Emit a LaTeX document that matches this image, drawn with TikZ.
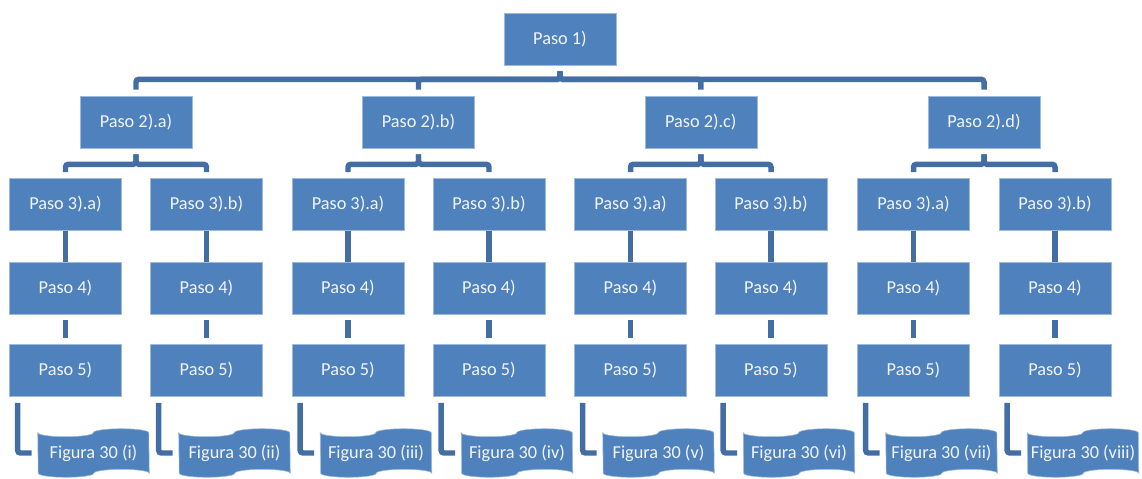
\documentclass[tikz,border=0pt]{standalone}
\usepackage{fontspec}
\setmainfont{Carlito}
\usetikzlibrary{backgrounds}

\definecolor{boxblue}{RGB}{79,129,189}
\definecolor{linkblue}{RGB}{66,110,164}
\definecolor{labelwhite}{RGB}{242,245,250}

\tikzset{
  paso/.style={rectangle,fill=boxblue,draw=boxblue!55!white,line width=0.4pt,text=labelwhite,
    minimum width=2.8cm,minimum height=1.3cm,inner sep=0pt,font=\fontsize{13}{15}\selectfont},
  figura/.style={rectangle,minimum width=2.775cm,minimum height=1cm,inner sep=0pt,text=labelwhite,
    font=\fontsize{13}{15}\selectfont},
  link/.style={draw=linkblue,line width=3.9pt,rounded corners=2pt,shorten <=0.15cm,shorten >=0.15cm}
}

% punched tape shape round a figura node
\newcommand{\tape}[1]{%
  \fill[boxblue,draw=boxblue!55!white,line width=0.4pt] (#1.north west)
    arc[start angle=180,end angle=360,x radius=0.694cm,y radius=0.1cm]
    arc[start angle=180,end angle=0,x radius=0.694cm,y radius=0.1cm] -- (#1.south east)
    arc[start angle=0,end angle=180,x radius=0.694cm,y radius=0.1cm]
    arc[start angle=0,end angle=-180,x radius=0.694cm,y radius=0.1cm] -- cycle;}

\begin{document}
\begin{tikzpicture}
                \useasboundingbox (0,0) rectangle (28.55,-11.95);

                \node[paso] (p1) at (14, -0.975) {Paso 1)};

                \node[paso] (p2a) at (3.4, -3.05) {Paso 2).a)};
                \node[paso] (p2b) at (10.4625, -3.05) {Paso 2).b)};
                \node[paso] (p2c) at (17.52, -3.05) {Paso 2).c)};
                \node[paso] (p2d) at (24.6, -3.05) {Paso 2).d)};

                \node[paso] (p31) at (1.6375, -5.1125) {Paso 3).a)};
                \node[paso] (p32) at (5.1625, -5.1125) {Paso 3).b)};
                \node[paso] (p33) at (8.7, -5.1125) {Paso 3).a)};
                \node[paso] (p34) at (12.225, -5.1125) {Paso 3).b)};
                \node[paso] (p35) at (15.7625, -5.1125) {Paso 3).a)};
                \node[paso] (p36) at (19.275, -5.1125) {Paso 3).b)};
                \node[paso] (p37) at (22.8375, -5.1125) {Paso 3).a)};
                \node[paso] (p38) at (26.375, -5.1125) {Paso 3).b)};

                \node[paso] (p41) at (1.6375, -7.2) {Paso 4)};
                \node[paso] (p42) at (5.1625, -7.2) {Paso 4)};
                \node[paso] (p43) at (8.7, -7.2) {Paso 4)};
                \node[paso] (p44) at (12.225, -7.2) {Paso 4)};
                \node[paso] (p45) at (15.7625, -7.2) {Paso 4)};
                \node[paso] (p46) at (19.275, -7.2) {Paso 4)};
                \node[paso] (p47) at (22.8375, -7.2) {Paso 4)};
                \node[paso] (p48) at (26.375, -7.2) {Paso 4)};

                \node[paso] (p51) at (1.6375, -9.2625) {Paso 5)};
                \node[paso] (p52) at (5.1625, -9.2625) {Paso 5)};
                \node[paso] (p53) at (8.7, -9.2625) {Paso 5)};
                \node[paso] (p54) at (12.225, -9.2625) {Paso 5)};
                \node[paso] (p55) at (15.7625, -9.2625) {Paso 5)};
                \node[paso] (p56) at (19.275, -9.2625) {Paso 5)};
                \node[paso] (p57) at (22.8375, -9.2625) {Paso 5)};
                \node[paso] (p58) at (26.375, -9.2625) {Paso 5)};

                \node[figura] (f1) at (2.3375, -11.325) {Figura 30 (i)};
                \node[figura] (f2) at (5.8625, -11.325) {Figura 30 (ii)};
                \node[figura] (f3) at (9.4, -11.325) {Figura 30 (iii)};
                \node[figura] (f4) at (12.925, -11.325) {Figura 30 (iv)};
                \node[figura] (f5) at (16.4625, -11.325) {Figura 30 (v)};
                \node[figura] (f6) at (19.975, -11.325) {Figura 30 (vi)};
                \node[figura] (f7) at (23.5375, -11.325) {Figura 30 (vii)};
                \node[figura] (f8) at (27.075, -11.325) {Figura 30 (viii)};

                \begin{scope}[on background layer]
                \tape{f1} \tape{f2} \tape{f3} \tape{f4}
                \tape{f5} \tape{f6} \tape{f7} \tape{f8}
                \end{scope}

                % tree
                \draw[link] (p1.south) -- ++(0,-0.35) -| (p2a.north);
                \draw[link] (p1.south) -- ++(0,-0.35) -| (p2b.north);
                \draw[link] (p1.south) -- ++(0,-0.35) -| (p2c.north);
                \draw[link] (p1.south) -- ++(0,-0.35) -| (p2d.north);

                \draw[link] (p2a.south) -- ++(0,-0.4) -| (p31.north);
                \draw[link] (p2a.south) -- ++(0,-0.4) -| (p32.north);
                \draw[link] (p2b.south) -- ++(0,-0.4) -| (p33.north);
                \draw[link] (p2b.south) -- ++(0,-0.4) -| (p34.north);
                \draw[link] (p2c.south) -- ++(0,-0.4) -| (p35.north);
                \draw[link] (p2c.south) -- ++(0,-0.4) -| (p36.north);
                \draw[link] (p2d.south) -- ++(0,-0.4) -| (p37.north);
                \draw[link] (p2d.south) -- ++(0,-0.4) -| (p38.north);

                % columns
                \draw[link] (p31) -- (p41) (p41) -- (p51);
                \draw[link] (p32) -- (p42) (p42) -- (p52);
                \draw[link] (p33) -- (p43) (p43) -- (p53);
                \draw[link] (p34) -- (p44) (p44) -- (p54);
                \draw[link] (p35) -- (p45) (p45) -- (p55);
                \draw[link] (p36) -- (p46) (p46) -- (p56);
                \draw[link] (p37) -- (p47) (p47) -- (p57);
                \draw[link] (p38) -- (p48) (p48) -- (p58);

                \draw[link] ([xshift=0.21cm]p51.south west) |- (f1.west);
                \draw[link] ([xshift=0.21cm]p52.south west) |- (f2.west);
                \draw[link] ([xshift=0.21cm]p53.south west) |- (f3.west);
                \draw[link] ([xshift=0.21cm]p54.south west) |- (f4.west);
                \draw[link] ([xshift=0.21cm]p55.south west) |- (f5.west);
                \draw[link] ([xshift=0.21cm]p56.south west) |- (f6.west);
                \draw[link] ([xshift=0.21cm]p57.south west) |- (f7.west);
                \draw[link] ([xshift=0.21cm]p58.south west) |- (f8.west);
\end{tikzpicture}
\end{document}
